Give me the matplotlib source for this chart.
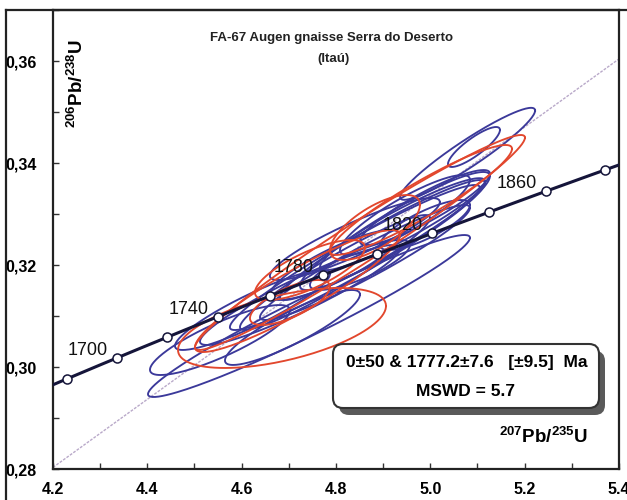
import numpy as np
import matplotlib
matplotlib.use("Agg")
import matplotlib.pyplot as plt
from matplotlib.patches import FancyBboxPatch
from matplotlib.lines import Line2D

plt.rcParams['font.family'] = ['Liberation Sans', 'DejaVu Sans']
plt.rcParams['mathtext.fontset'] = 'custom'
plt.rcParams['mathtext.rm'] = 'Liberation Sans:bold'
plt.rcParams['mathtext.bf'] = 'Liberation Sans:bold'

# --- analyses: 207Pb/235U, 2s abs, 206Pb/238U, 2s abs, error correlation ---
blue_x   = [5.079, 5.0925, 4.7427, 4.554, 4.840, 4.925, 4.7077, 4.8985,
            4.9462, 4.9886, 4.7236, 4.7978, 4.9886, 4.6229, 4.8508, 4.8614,
            4.840, 4.9409, 4.7978]
blue_sx  = [0.1431, 0.0551, 0.3413, 0.1484, 0.1802, 0.2014, 0.1431, 0.2173,
            0.1378, 0.1378, 0.2120, 0.2014, 0.0954, 0.1643, 0.1060, 0.2226,
            0.2650, 0.1749, 0.1378]
blue_y   = [0.3418, 0.34314, 0.3100, 0.30529, 0.3251, 0.32667, 0.30775, 0.3249,
            0.3298, 0.33127, 0.31412, 0.31853, 0.32784, 0.31118, 0.3200, 0.32049,
            0.32147, 0.3280, 0.3200]
blue_sy  = [0.00902, 0.00392, 0.01588, 0.00686, 0.00804, 0.01157, 0.00735, 0.01176,
            0.00784, 0.00735, 0.0098, 0.01127, 0.0049, 0.00784, 0.0049, 0.01127,
            0.01422, 0.00902, 0.00686]
blue_rho = [0.94, 0.85, 0.965, 0.85, 0.90, 0.93, 0.88, 0.95,
            0.88, 0.90, 0.93, 0.95, 0.80, 0.90, 0.80, 0.95,
            0.96, 0.93, 0.85]

red_x   = [4.8508, 4.9802, 4.6855, 4.8826, 4.7024, 4.7183, 4.7448]
red_sx  = [0.3498, 0.1929, 0.2205, 0.0954, 0.0848, 0.2173, 0.1166]
red_y   = [0.32441, 0.33275, 0.30765, 0.32735, 0.31265, 0.3149, 0.31902]
red_sy  = [0.02108, 0.01078, 0.00784, 0.00637, 0.00441, 0.01196, 0.00588]
red_rho = [0.975, 0.93, 0.55, 0.70, 0.70, 0.92, 0.75]

# --- concordia ---
LAMBDA_238 = 1.55125e-4   # per Ma
LAMBDA_235 = 9.8485e-4    # per Ma
marker_ages = [1680, 1700, 1720, 1740, 1760, 1780, 1800, 1820, 1840, 1860, 1880]
label_ages = [1700, 1740, 1780, 1820, 1860]
lower_intercept = 0.0
upper_intercept = 1777.2

x_ticks = [4.2, 4.4, 4.6, 4.8, 5.0, 5.2, 5.4]
y_ticks = [0.28, 0.30, 0.32, 0.34, 0.36]
y_tick_labels = ['0,28', '0,30', '0,32', '0,34', '0,36']

title = "FA-67 Augen gnaisse Serra do Deserto"
subtitle = "(Itaú)"
result_line1 = "0±50 & 1777.2±7.6   [±9.5]  Ma"
result_line2 = "MSWD = 5.7"


def concordia(t):
    t = np.asarray(t, dtype=float)
    return np.expm1(LAMBDA_235 * t), np.expm1(LAMBDA_238 * t)


def error_ellipse(ax, x, sx, y, sy, rho, color):
    cov = np.array([[sx * sx, rho * sx * sy], [rho * sx * sy, sy * sy]])
    L = np.linalg.cholesky(cov)
    th = np.linspace(0, 2 * np.pi, 200)
    pts = L @ np.vstack([np.cos(th), np.sin(th)])
    ax.plot(x + pts[0], y + pts[1], color=color, lw=1.35, zorder=2,
            solid_joinstyle='round')


fig = plt.figure(figsize=(6.27, 5.0), dpi=100)
ax = fig.add_axes([53 / 627, 31 / 500, 566 / 627, 459 / 500])
ax.set_xlim(4.2, 5.4)
ax.set_ylim(0.28, 0.370)

# discordia through both intercepts
p0 = concordia(lower_intercept)
p1 = concordia(upper_intercept)
ax.axline((float(p0[0]), float(p0[1])), (float(p1[0]), float(p1[1])),
          color='#b9a9c9', lw=1.0, ls=(0, (2, 1)), zorder=1)

for i in range(len(blue_x)):
    error_ellipse(ax, blue_x[i], blue_sx[i], blue_y[i], blue_sy[i], blue_rho[i], '#3b399a')
for i in range(len(red_x)):
    error_ellipse(ax, red_x[i], red_sx[i], red_y[i], red_sy[i], red_rho[i], '#e2472d')

# concordia curve with age markers
tc = np.linspace(1660, 1900, 400)
cx, cy = concordia(tc)
ax.plot(cx, cy, color='#15153a', lw=2.2, zorder=3)
mx, my = concordia(marker_ages)
ax.plot(mx, my, 'o', ms=6.5, mfc='white', mec='#15153a', mew=1.1, zorder=4)
for a in label_ages:
    lx, ly = concordia(a)
    ax.annotate(str(a), (float(lx), float(ly)), xytext=(-9, -1),
                textcoords='offset pixels', ha='right', va='bottom',
                fontsize=13, color='#111111', zorder=5)

# axes styling
ax.set_xticks(x_ticks)
ax.set_xticks(np.arange(4.2, 5.41, 0.1), minor=True)
ax.set_xticklabels([f"{v:.1f}" for v in x_ticks])
ax.set_yticks(y_ticks)
ax.set_yticks(np.arange(0.28, 0.3701, 0.01), minor=True)
ax.set_yticklabels(y_tick_labels)
ax.tick_params(which='both', direction='in', length=4, width=1.0, color='#333333')
ax.tick_params(axis='x', pad=9, labelsize=11.5)
ax.tick_params(axis='y', pad=12, labelsize=11.5)
for lab in ax.get_xticklabels() + ax.get_yticklabels():
    lab.set_fontweight('bold')
for s in ax.spines.values():
    s.set_color('#222222')
    s.set_linewidth(1.6)

# axis titles inside the frame
ax.text(0.77, 4.16, r'$^{206}$Pb/$^{238}$U',
        transform=fig.dpi_scale_trans, rotation=90, ha='center', va='center',
        fontsize=13.5, fontweight='bold')
ax.text(5.43, 0.63, r'$^{207}$Pb/$^{235}$U', transform=fig.dpi_scale_trans,
        ha='center', va='center', fontsize=13.5, fontweight='bold')

fig.text(3.32, 4.62, title, transform=fig.dpi_scale_trans, ha='center',
         va='center', fontsize=9.5, fontweight='bold', color='#222222')
fig.text(3.33, 4.41, subtitle, transform=fig.dpi_scale_trans, ha='center',
         va='center', fontsize=9.5, fontweight='bold', color='#222222')

# result box with drop shadow
shadow = FancyBboxPatch((3.39, 0.85), 2.66, 0.64, boxstyle='round,pad=0,rounding_size=0.1',
                        transform=fig.dpi_scale_trans, fc='#5a5a5a', ec='none', zorder=6)
box = FancyBboxPatch((3.33, 0.92), 2.66, 0.64, boxstyle='round,pad=0,rounding_size=0.1',
                     transform=fig.dpi_scale_trans, fc='white', ec='#333333', lw=1.5, zorder=7)
fig.add_artist(shadow)
fig.add_artist(box)
fig.text(4.67, 1.37, result_line1, transform=fig.dpi_scale_trans, ha='center',
         va='center', fontsize=12.5, fontweight='bold', zorder=8)
fig.text(4.66, 1.08, result_line2, transform=fig.dpi_scale_trans, ha='center',
         va='center', fontsize=12.5, fontweight='bold', zorder=8)

# outer frame
fig.add_artist(Line2D([0.06, 6.27], [4.90, 4.90], transform=fig.dpi_scale_trans,
                      color='#222222', lw=1.6))
fig.add_artist(Line2D([0.06, 0.06], [0.0, 4.90], transform=fig.dpi_scale_trans,
                      color='#222222', lw=1.6))

fig.savefig('out.png', dpi=100)
